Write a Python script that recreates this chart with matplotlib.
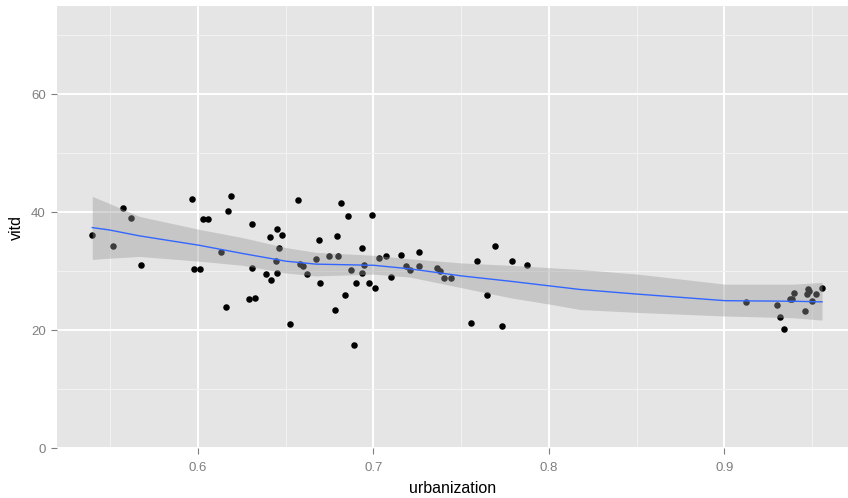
import matplotlib.pyplot as plt

# scatter points
urbanization = [0.5398, 0.5516, 0.5575, 0.5618, 0.5675, 0.5964, 0.598, 0.601, 0.603, 0.6057,
                0.619, 0.6173, 0.6158, 0.613, 0.6308, 0.6308, 0.629, 0.6327, 0.641, 0.6452,
                0.6477, 0.646, 0.6386, 0.6418, 0.6444, 0.645, 0.6568, 0.6526, 0.658, 0.66,
                0.662, 0.6813, 0.6857, 0.699, 0.6688, 0.679, 0.6933, 0.667, 0.6746, 0.6798,
                0.6695, 0.6874, 0.6933, 0.6948, 0.6899, 0.6973, 0.701, 0.684, 0.678, 0.6889,
                0.703, 0.707, 0.71, 0.7159, 0.7183, 0.721, 0.7259, 0.7259, 0.736, 0.7379,
                0.7403, 0.744, 0.759, 0.7692, 0.779, 0.7877, 0.7648, 0.7557, 0.7732, 0.9122,
                0.93, 0.9316, 0.934, 0.9373, 0.9386, 0.9394, 0.946, 0.9468, 0.9476, 0.948,
                0.950, 0.952, 0.9556]
vitd = [36.2, 34.2, 40.8, 39.0, 31.0, 42.3, 30.3, 30.3, 38.8, 38.8,
        42.8, 40.2, 23.9, 33.3, 38.0, 30.5, 25.3, 25.5, 35.8, 37.2,
        36.2, 34.0, 29.5, 28.5, 31.7, 29.7, 42.0, 21.0, 31.2, 30.9,
        29.5, 41.5, 39.3, 39.5, 35.3, 36.0, 34.0, 32.0, 32.5, 32.5,
        28.0, 30.2, 29.7, 31.0, 28.0, 28.0, 27.2, 26.0, 23.5, 17.5,
        32.2, 32.5, 29.0, 32.8, 30.8, 30.2, 33.3, 30.8, 30.5, 30.1,
        28.8, 28.8, 31.7, 34.2, 31.7, 31.0, 26.0, 21.2, 20.7, 24.7,
        24.2, 22.2, 20.2, 25.3, 25.3, 26.3, 23.3, 26.2, 26.9, 26.6,
        24.9, 26.2, 27.2]

# loess smooth and its band
smooth_x = [0.5398, 0.5495, 0.5666, 0.6007, 0.6255, 0.6501, 0.6672, 0.7003, 0.7208,
            0.7502, 0.7778, 0.8006, 0.8177, 0.8509, 0.9003, 0.9392, 0.9556]
smooth_y = [37.4, 37.0, 36.0, 34.4, 33.0, 31.7, 31.2, 31.0, 30.4,
            29.2, 28.3, 27.5, 26.9, 26.1, 25.0, 24.9, 24.8]
smooth_lo = [32.0, 32.2, 32.5, 31.7, 31.0, 29.7, 29.2, 29.5, 29.0,
             27.2, 25.5, 24.4, 23.5, 23.0, 22.4, 22.1, 21.7]
smooth_hi = [42.7, 41.5, 39.3, 37.1, 35.7, 34.0, 33.2, 32.7, 32.1,
             31.4, 31.0, 30.6, 30.3, 29.5, 27.8, 27.8, 28.1]

x_ticks = [0.6, 0.7, 0.8, 0.9]
y_ticks = [0, 20, 40, 60]

plt.rcParams['font.family'] = ['Liberation Sans', 'DejaVu Sans']

fig = plt.figure(figsize=(8.48, 4.98), dpi=100)
ax = fig.add_axes([57 / 848, 50 / 498, 1 - 57 / 848, 442 / 498])
ax.set_facecolor('#E5E5E5')

ax.set_xlim(0.5197, 0.9704)
ax.set_ylim(0, 75)

ax.set_xticks(x_ticks)
ax.set_xticks([0.55, 0.65, 0.75, 0.85, 0.95], minor=True)
ax.set_yticks(y_ticks)
ax.set_yticks([10, 30, 50, 70], minor=True)
ax.grid(which='major', color='white', linewidth=1.4)
ax.grid(which='minor', color='#F2F2F2', linewidth=0.8)
ax.set_axisbelow(True)

for s in ax.spines.values():
    s.set_visible(False)

ax.tick_params(which='major', length=4, width=0.8, color='#7F7F7F',
               labelcolor='#7F7F7F', labelsize=9.5, pad=4)
ax.tick_params(axis='x', which='major', pad=6)
ax.tick_params(which='minor', length=0)

ax.scatter(urbanization, vitd, s=22, color='black', linewidths=0, zorder=2)
ax.fill_between(smooth_x, smooth_lo, smooth_hi, color='#999999', alpha=0.4,
                linewidth=0, zorder=3)
ax.plot(smooth_x, smooth_y, color='#3366FF', linewidth=1.0, zorder=4)

ax.set_xlabel('urbanization', fontsize=11.5, labelpad=5)
ax.set_ylabel('vitd', fontsize=11.5, labelpad=5)

fig.savefig('out.png', dpi=100)
